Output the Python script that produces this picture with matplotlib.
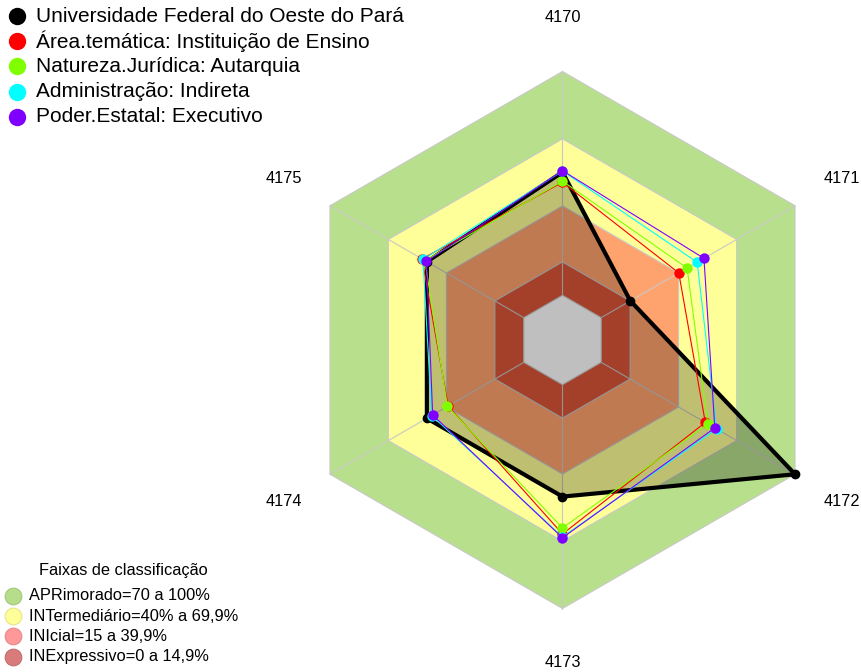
import numpy as np
import matplotlib
matplotlib.use("Agg")
import matplotlib.pyplot as plt
from matplotlib.patches import Polygon

plt.rcParams['font.family'] = ['Liberation Sans', 'DejaVu Sans']

# dados
eixos = ['4170', '4171', '4172', '4173', '4174', '4175']
ufopa = [55, 15, 100, 50, 50, 50]
area_tematica = [50.5, 40, 53.7, 66.7, 39, 52.5]
natureza_juridica = [51, 44.3, 55, 64, 39.4, 51]
administracao = [55.5, 49.5, 59.5, 68, 47.5, 52]
poder_estatal = [55.7, 53, 58.6, 68.4, 47, 50.2]

nomes_series = ['Universidade Federal do Oeste do Pará',
                'Área.temática: Instituição de Ensino',
                'Natureza.Jurídica: Autarquia',
                'Administração: Indireta',
                'Poder.Estatal: Executivo']
cores_series = ['black', '#FF0000', '#80FF00', '#00FFFF', '#8000FF']

faixas_nomes = ['APRimorado=70 a 100%', 'INTermediário=40% a 69,9%',
                'INIcial=15 a 39,9%', 'INExpressivo=0 a 14,9%']
faixas_limites = [100, 69.9, 39.9, 14.9]
faixas_cores = ['#B8E08C', '#FFFF99', '#FFA36E', '#DC5538']
faixas_cores_legenda = ['#B5DD8A', '#FFFF99', '#FF9999', '#D97B7B']

# geometria do radar (sentido horario a partir do topo)
n = len(eixos)
ang = np.pi / 2 - np.arange(n) * 2 * np.pi / n
r0 = 1 / 6  # deslocamento do centro (valor zero)


def raio(v):
    return r0 + (1 - r0) * np.asarray(v, dtype=float) / 100


def xy(vals):
    r = raio(vals)
    return r * np.cos(ang), r * np.sin(ang)


fig = plt.figure(figsize=(8.62, 6.72), dpi=100, facecolor='white')
ax = fig.add_axes([0, 0, 1, 1])
R = 268.5
cx, cy = 562.5, 340
ax.set_xlim(-cx / R, (862 - cx) / R)
ax.set_ylim(-(672 - cy) / R, cy / R)
ax.set_aspect('equal')
ax.axis('off')

# faixas de classificacao
for lim, cor in zip(faixas_limites, faixas_cores):
    x, y = xy([lim] * n)
    ax.add_patch(Polygon(np.c_[x, y], closed=True, facecolor=cor,
                         edgecolor='#C8C8C8', lw=0.8, zorder=1))
x, y = xy([0] * n)
ax.add_patch(Polygon(np.c_[x, y], closed=True, facecolor='white',
                     edgecolor='#C8C8C8', lw=0.8, zorder=1))

# raios
for a in ang:
    ax.plot([r0 * np.cos(a), np.cos(a)], [r0 * np.sin(a), np.sin(a)],
            color='#C8C8C8', lw=0.8, zorder=2)

# rotulos dos eixos
for a, lab in zip(ang, eixos):
    ax.text(1.2 * np.cos(a), 1.2 * np.sin(a), lab, ha='center', va='center',
            fontsize=11.8, color='black')

# series
series = [ufopa, area_tematica, natureza_juridica, administracao, poder_estatal]
x, y = xy(ufopa)
ax.add_patch(Polygon(np.c_[x, y], closed=True, facecolor=(0, 0, 0, 0.25),
                     edgecolor='none', zorder=3))
for i, (vals, cor) in enumerate(zip(series, cores_series)):
    x, y = xy(vals)
    xs, ys = np.r_[x, x[0]], np.r_[y, y[0]]
    if i == 0:
        ax.plot(xs, ys, color=cor, lw=3, zorder=4)
        ax.plot(x, y, 'o', color=cor, ms=6, zorder=4)
    else:
        ax.plot(xs, ys, color=cor, lw=0.8, zorder=4 + i)
        ax.plot(x, y, 'o', color=cor, ms=7.5, mec='none', zorder=4 + i)

# legenda das series
for i, (nome, cor) in enumerate(zip(nomes_series, cores_series)):
    yy = 1 - (16 + 25.2 * i) / 672
    ax.plot([17 / 862], [yy], 'o', color=cor, ms=12.5, mec='none',
            transform=ax.transAxes, clip_on=False)
    ax.text(36 / 862, yy, nome, fontsize=15, va='center', ha='left',
            transform=ax.transAxes)

# legenda das faixas
ax.text(123 / 862, 1 - 570 / 672, 'Faixas de classificação', fontsize=11.8,
        ha='center', va='center', transform=ax.transAxes)
for i, (nome, cor) in enumerate(zip(faixas_nomes, faixas_cores_legenda)):
    yy = 1 - (596 + 20.2 * i) / 672
    borda = tuple(c * 0.9 for c in matplotlib.colors.to_rgb(cor))
    ax.plot([13 / 862], [yy], 'o', color=cor, ms=12, mec=borda, mew=0.8,
            transform=ax.transAxes, clip_on=False)
    ax.text(29 / 862, yy, nome, fontsize=11.8, va='center', ha='left',
            transform=ax.transAxes)

fig.savefig('out.png', dpi=100, facecolor='white')
